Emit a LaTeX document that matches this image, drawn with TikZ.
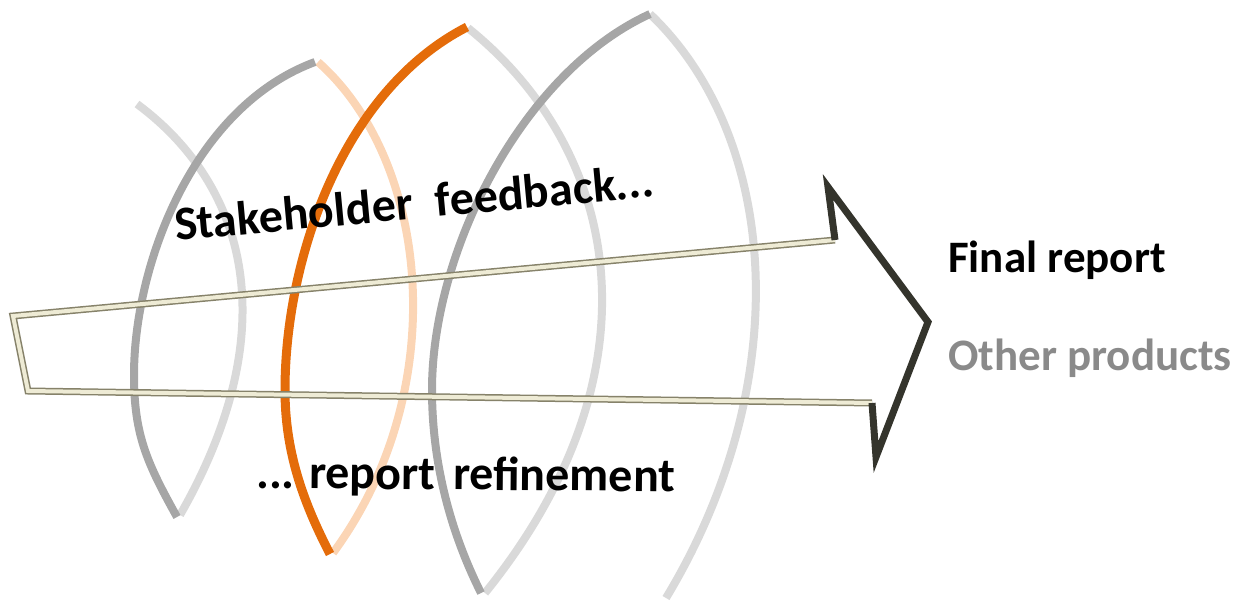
\documentclass[tikz,border=0pt]{standalone}
\usepackage{fontspec}
\setmainfont{Carlito}
\usetikzlibrary{positioning}

\definecolor{ringdark}{HTML}{A6A6A6}
\definecolor{ringlight}{HTML}{D9D9D9}
\definecolor{ringhot}{HTML}{E46C0A}
\definecolor{ringpeach}{HTML}{FBD5B5}
\definecolor{shaftedge}{HTML}{86826A}
\definecolor{shaftfill}{HTML}{EEEBD5}
\definecolor{headdark}{HTML}{34342C}
\definecolor{othergray}{HTML}{8A8A8A}

\tikzset{
  ring/.style={line width=8pt, line cap=butt},
  backring/.style={ring, draw=ringlight},
  frontring/.style={ring, draw=ringdark},
  hotback/.style={ring, draw=ringpeach},
  hotfront/.style={ring, draw=ringhot, line width=9pt},
  shaft/.style={draw=shaftedge, line width=1.5pt, double=shaftfill, double distance=4pt, line join=miter},
  head/.style={draw=headdark, line width=7pt, line join=miter, miter limit=20},
  midword/.style={font=\bfseries\fontsize{48}{56}\selectfont, inner sep=0pt, anchor=base west},
  outword/.style={font=\bfseries\fontsize{45}{54}\selectfont, inner sep=0pt, anchor=base west}
}

\begin{document}
\begin{tikzpicture}[x=1pt,y=-1pt]
    \useasboundingbox (0,0) rectangle (1238,604);

    % the spiral, back halves first
    \draw[backring] (137,104) .. controls (249,187) and (285,332) .. (180,515);
    \draw[hotback] (318,62) .. controls (430,161) and (453,390) .. (333,553);
    \draw[backring] (468,28) .. controls (620,150) and (665,370) .. (485,593);
    \draw[backring] (650,14) .. controls (780,138) and (796,383) .. (666,598);
    % front halves
    \draw[frontring] (177,517) .. controls (147,463) and (134,435) .. (134,375)
        .. controls (134,265) and (193,107) .. (315,62);
    \draw[hotfront] (330,554) .. controls (302,500) and (285,450) .. (285,390)
        .. controls (285,260) and (342,91) .. (467,27);
    \draw[frontring] (481,593) .. controls (449,529) and (432,460) .. (432,390)
        .. controls (432,250) and (523,72) .. (650,14);

    % the arrow
    \coordinate (tail top) at (13,316);
    \coordinate (tail bottom) at (28,391);
    \coordinate (notch top) at (835,240);
    \coordinate (barb top) at (828,187);
    \coordinate (tip) at (928,322);
    \coordinate (barb bottom) at (876,457);
    \coordinate (notch bottom) at (872,403);
    \draw[shaft] (notch top) -- (tail top) -- (tail bottom) -- (notch bottom);
    \draw[head] (notch top) -- (barb top) -- (tip) -- (barb bottom) -- (notch bottom);

    \node[midword, rotate=5.3] (feedback) at (176,241) {Stakeholder\hspace{.25em} feedback...};
    \node[midword, rotate=-0.5] (refinement) at (256,488) {... report\hspace{.15em} refinement};

    \node[outword] (final) at (948,272) {Final report};
    \node[outword, text=othergray] (other) at (948,370) {Other products};
\end{tikzpicture}
\end{document}
